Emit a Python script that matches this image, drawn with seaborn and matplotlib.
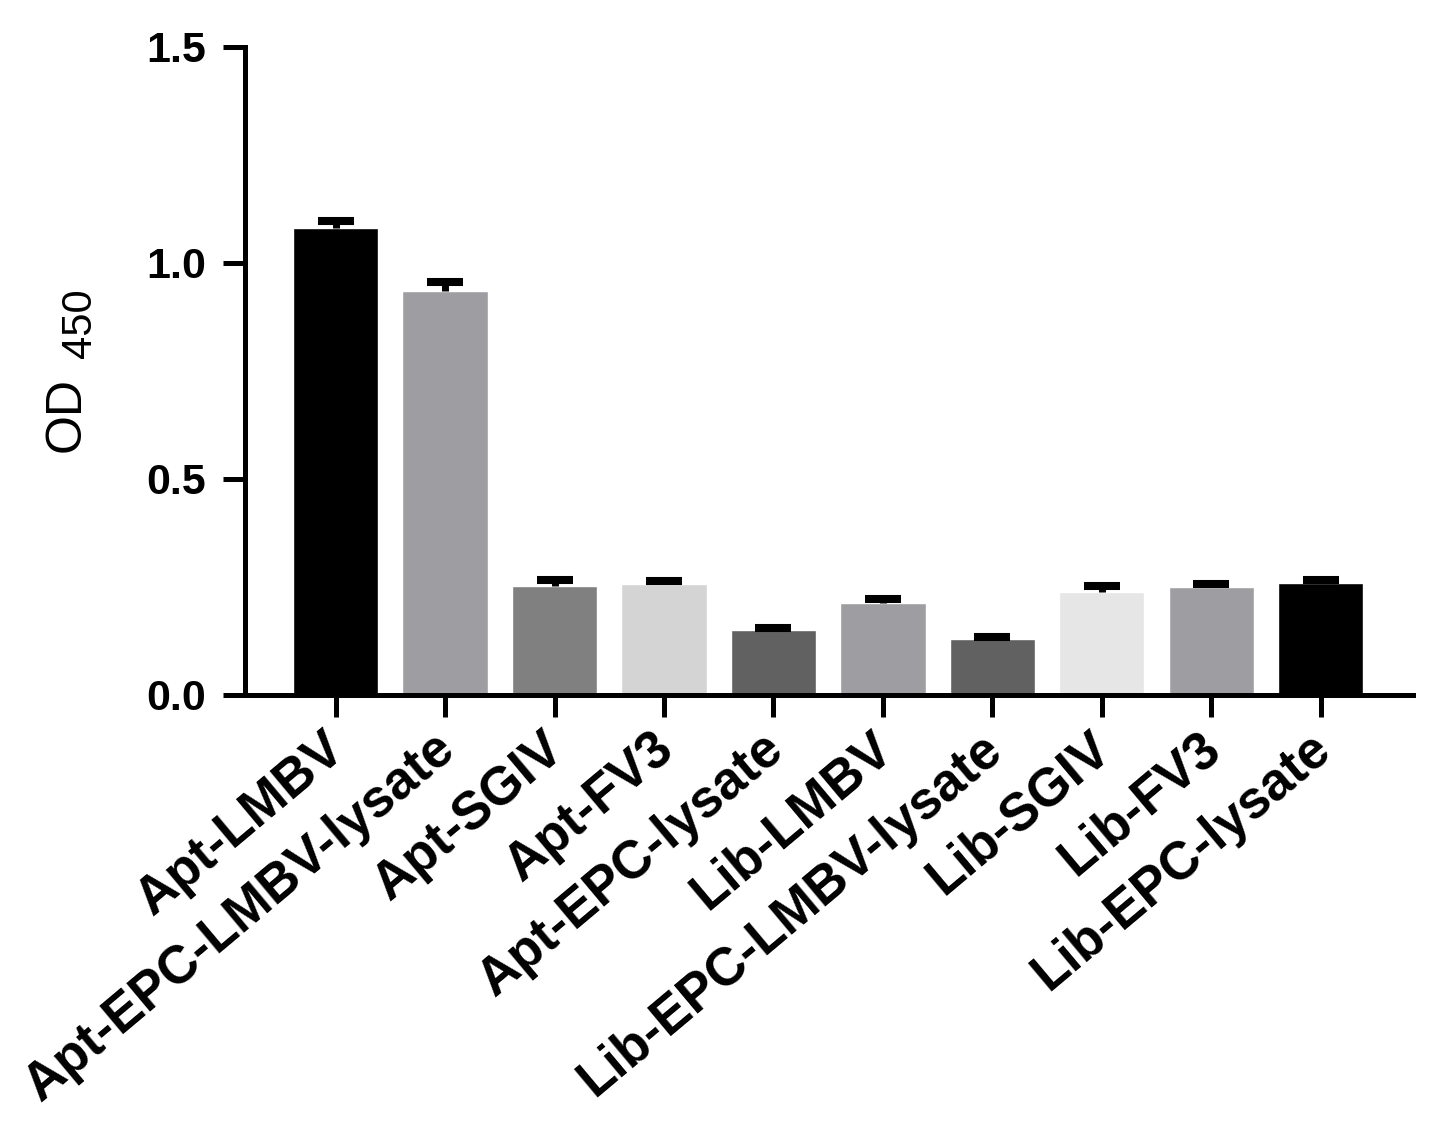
import matplotlib
matplotlib.use("Agg")
import matplotlib.pyplot as plt
import matplotlib.transforms as mtransforms
import seaborn as sns
import pandas as pd
import numpy as np

categories = ["Apt-LMBV", "Apt-EPC-LMBV-lysate", "Apt-SGIV", "Apt-FV3", "Apt-EPC-lysate",
              "Lib-LMBV", "Lib-EPC-LMBV-lysate", "Lib-SGIV", "Lib-FV3", "Lib-EPC-lysate"]
od450 = [1.08, 0.935, 0.252, 0.257, 0.150, 0.213, 0.130, 0.238, 0.250, 0.258]
sem = [0.018, 0.020, 0.014, 0.006, 0.006, 0.010, 0.005, 0.013, 0.007, 0.007]
bar_colors = ["#000000", "#9e9ea2", "#808080", "#d4d4d4", "#616161",
              "#9e9ea2", "#616161", "#e6e6e6", "#9e9ea2", "#000000"]
yticks = [0.0, 0.5, 1.0, 1.5]

sns.set_theme(style="ticks")
plt.rcParams['font.family'] = ['Liberation Sans', 'DejaVu Sans']
for k in ["text.color", "axes.labelcolor", "xtick.color", "ytick.color", "axes.edgecolor"]:
    plt.rcParams[k] = "black"

df = pd.DataFrame({"cat": categories, "od": od450})

fig = plt.figure(figsize=(14.4, 11.43), dpi=100)
ax = fig.add_axes([0.170, 0.392, 0.811, 0.567])

sns.barplot(data=df, x="cat", y="od", hue="cat", palette=bar_colors, order=categories,
            hue_order=categories, legend=False, errorbar=None, width=0.78,
            saturation=1, ax=ax)

xs = np.arange(len(categories))
od_arr = np.array(od450)
sem_arr = np.array(sem)
# upper-only error bars (stem + cap at mean + SEM)
ax.errorbar(xs, od_arr, yerr=[np.zeros_like(sem_arr), sem_arr], fmt="none",
            ecolor="black", elinewidth=5, capsize=0, zorder=5)
ax.plot(xs, od_arr + sem_arr, linestyle="none", marker="_", markersize=26,
        markeredgewidth=5.8, color="black", zorder=6)

ax.set_xlim(-0.83, 9.84)
ax.set_ylim(0, 1.5)
ax.set_yticks(yticks)
ax.set_yticklabels([f"{t:.1f}" for t in yticks], fontsize=31, fontweight="bold")
ax.set_xticks(xs)
ax.set_xticklabels(categories, rotation=40, ha="right", va="top", rotation_mode="anchor",
                   fontsize=38, fontweight="bold")
ax.set_xlabel("")
ax.set_ylabel("OD", fontsize=36)
ax.yaxis.set_label_coords(-0.133, 0.433)
ax.text(-0.124, 0.573, "450", transform=ax.transAxes, rotation=90,
        ha="right", va="center", fontsize=30)

for s in ["top", "right"]:
    ax.spines[s].set_visible(False)
for s in ["left", "bottom"]:
    ax.spines[s].set_linewidth(3.6)
    ax.spines[s].set_color("black")
ax.tick_params(axis="both", which="major", length=16, width=3.6, color="black",
               direction="out")
ax.tick_params(axis="y", pad=12)
ax.tick_params(axis="x", pad=0)

offset = mtransforms.ScaledTranslation(-0.13, -0.06, fig.dpi_scale_trans)
for lab in ax.get_xticklabels():
    lab.set_transform(lab.get_transform() + offset)

fig.savefig("out.png", dpi=100, facecolor="white")
